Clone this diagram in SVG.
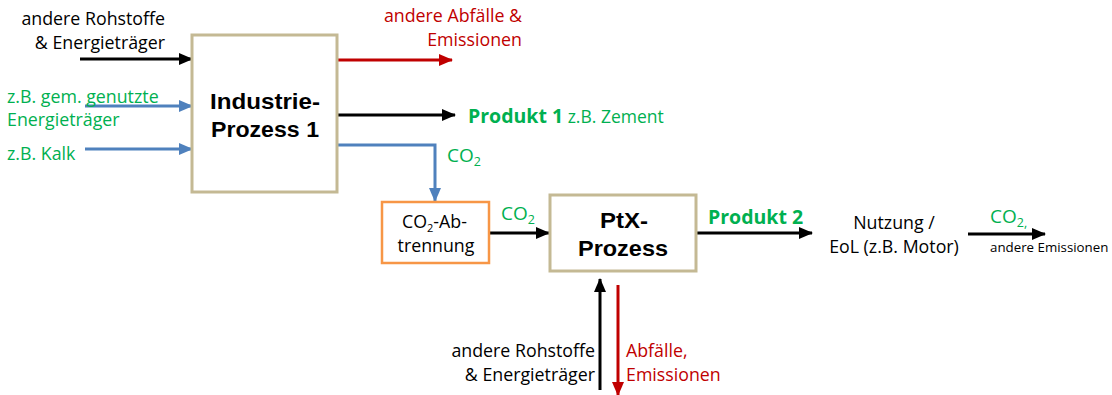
<svg xmlns="http://www.w3.org/2000/svg" width="1112" height="395" viewBox="0 0 1112 395">
<defs>
<marker id="ab" markerUnits="userSpaceOnUse" markerWidth="14" markerHeight="12" refX="13" refY="6" orient="auto"><path d="M0,0 L14,6 L0,12 Z" fill="#000"/></marker>
<marker id="ar" markerUnits="userSpaceOnUse" markerWidth="14" markerHeight="12" refX="13" refY="6" orient="auto"><path d="M0,0 L14,6 L0,12 Z" fill="#C00000"/></marker>
<marker id="au" markerUnits="userSpaceOnUse" markerWidth="14" markerHeight="12" refX="13" refY="6" orient="auto"><path d="M0,0 L14,6 L0,12 Z" fill="#4F81BD"/></marker>
</defs>
<style>
text{font-family:"Open Sans","Liberation Sans",sans-serif;font-size:17.8px;fill:#000}
.g{fill:#00B050}
.r{fill:#C00000}
.b{font-family:"Liberation Sans",Arial,sans-serif;font-weight:bold;font-size:22px}
.gb{fill:#00B050;font-weight:bold;font-size:19.5px}
.co{font-size:19px}
.sm{font-size:13.3px}
.box{fill:#fff;stroke:#C4B994;stroke-width:3}
.l{fill:none;stroke-width:3}
.k{stroke:#000}
.rd{stroke:#C00000}
.bl{stroke:#4F81BD}
</style>
<rect width="1112" height="395" fill="#fff"/>
<g id="connectors">
<line class="l k" x1="80" y1="59" x2="192" y2="59" marker-end="url(#ab)"/>
<line class="l bl" x1="85" y1="106" x2="192" y2="106" marker-end="url(#au)"/>
<line class="l bl" x1="85" y1="149" x2="192" y2="149" marker-end="url(#au)"/>
<line class="l rd" x1="338" y1="60" x2="452" y2="60" marker-end="url(#ar)"/>
<line class="l k" x1="338" y1="115" x2="455" y2="115" marker-end="url(#ab)"/>
<polyline class="l bl" points="338,145 435,145 435,201" marker-end="url(#au)"/>
<line class="l k" x1="489" y1="233" x2="549" y2="233" marker-end="url(#ab)"/>
<line class="l k" x1="697" y1="233" x2="812" y2="233" marker-end="url(#ab)"/>
<line class="l k" x1="968" y1="234" x2="1045" y2="234" marker-end="url(#ab)"/>
<line class="l k" x1="600" y1="390" x2="600" y2="279" marker-end="url(#ab)"/>
<line class="l rd" x1="618" y1="285" x2="618" y2="395" marker-end="url(#ar)"/>
</g>
<g id="industrie">
<rect class="box" x="192" y="35" width="145" height="157"/>
<text class="b" x="265" y="109" text-anchor="middle" textLength="110" lengthAdjust="spacingAndGlyphs">Industrie-</text>
<text class="b" x="265" y="137" text-anchor="middle" textLength="108" lengthAdjust="spacingAndGlyphs">Prozess 1</text>
</g>
<g id="co2ab">
<rect x="382" y="202" width="107" height="61" fill="#fff" stroke="#F79646" stroke-width="2.5"/>
<text x="402" y="228">CO<tspan font-size="11" dy="4">2</tspan><tspan dy="-4">-Ab-</tspan></text>
<text x="436" y="252" text-anchor="middle">trennung</text>
</g>
<g id="ptx">
<rect class="box" x="550" y="195" width="146" height="76"/>
<text class="b" x="624" y="228" text-anchor="middle" textLength="48" lengthAdjust="spacingAndGlyphs">PtX-</text>
<text class="b" x="623" y="256" text-anchor="middle" textLength="90" lengthAdjust="spacingAndGlyphs">Prozess</text>
</g>
<g id="labels">
<text x="165" y="25" text-anchor="end">andere Rohstoffe</text>
<text x="165" y="49" text-anchor="end">&amp; Energieträger</text>
<text class="g" x="7" y="103">z.B. gem. genutzte</text>
<text class="g" x="7" y="126">Energieträger</text>
<text class="g" x="7" y="160">z.B. Kalk</text>
<text class="r" x="522" y="22" text-anchor="end">andere Abfälle &amp;</text>
<text class="r" x="522" y="46" text-anchor="end">Emissionen</text>
<text x="468" y="123"><tspan class="gb">Produkt 1</tspan><tspan class="g" font-size="17.5"> z.B. Zement</tspan></text>
<text class="g co" x="447" y="162">CO<tspan font-size="12.5" dy="4">2</tspan></text>
<text class="g co" x="501" y="220">CO<tspan font-size="12.5" dy="4">2</tspan></text>
<text class="gb" x="708" y="224">Produkt 2</text>
<text x="894" y="229" text-anchor="middle">Nutzung /</text>
<text x="894" y="253" text-anchor="middle">EoL (z.B. Motor)</text>
<text class="g co" x="990" y="223">CO<tspan font-size="12.5" dy="4">2,</tspan></text>
<text class="sm" x="990" y="252">andere Emissionen</text>
<text x="595" y="357" text-anchor="end">andere Rohstoffe</text>
<text x="595" y="381" text-anchor="end">&amp; Energieträger</text>
<text class="r" x="626" y="357">Abfälle,</text>
<text class="r" x="626" y="381">Emissionen</text>
</g>
</svg>
